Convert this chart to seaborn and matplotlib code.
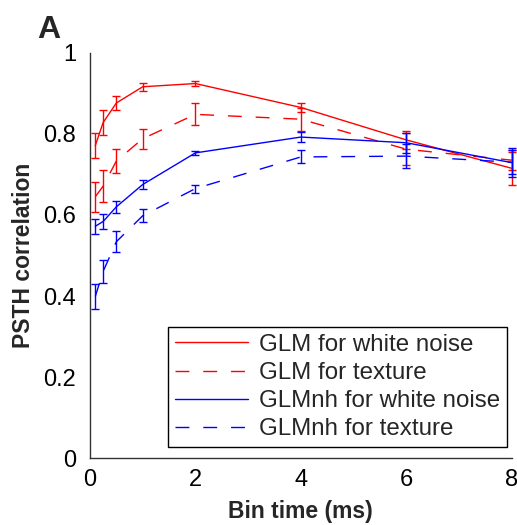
import matplotlib
matplotlib.use("Agg")
import matplotlib.pyplot as plt
import seaborn as sns
import pandas as pd
import numpy as np

# ---- data ----
bin_time = [0.1, 0.25, 0.5, 1, 2, 4, 6, 8]
series_names = ["GLM for white noise", "GLM for texture",
                "GLMnh for white noise", "GLMnh for texture"]
glm_wn = [0.771, 0.828, 0.876, 0.916, 0.924, 0.865, 0.785, 0.715]
glm_wn_err = [0.030, 0.030, 0.018, 0.010, 0.005, 0.010, 0.022, 0.040]
glm_tx = [0.645, 0.671, 0.733, 0.788, 0.848, 0.836, 0.762, 0.735]
glm_tx_err = [0.037, 0.039, 0.030, 0.025, 0.027, 0.028, 0.040, 0.025]
glmnh_wn = [0.572, 0.584, 0.620, 0.675, 0.753, 0.792, 0.778, 0.729]
glmnh_wn_err = [0.019, 0.018, 0.014, 0.012, 0.005, 0.013, 0.025, 0.035]
glmnh_tx = [0.399, 0.461, 0.534, 0.598, 0.665, 0.743, 0.745, 0.730]
glmnh_tx_err = [0.030, 0.028, 0.026, 0.016, 0.010, 0.016, 0.030, 0.030]
x_ticks = [0, 2, 4, 6, 8]
y_ticks = [0, 0.2, 0.4, 0.6, 0.8, 1]
y_tick_labels = ["0", "0.2", "0.4", "0.6", "0.8", "1"]

values = [glm_wn, glm_tx, glmnh_wn, glmnh_tx]
errors = [glm_wn_err, glm_tx_err, glmnh_wn_err, glmnh_tx_err]

df = pd.concat([
    pd.DataFrame({"Bin time": bin_time, "corr": v, "err": e, "series": n})
    for n, v, e in zip(series_names, values, errors)
], ignore_index=True)

colors = {series_names[0]: "#ff0000", series_names[1]: "#ff0000",
          series_names[2]: "#0000ff", series_names[3]: "#0000ff"}
dash = (10, 10)
dashes = {series_names[0]: "", series_names[1]: dash,
          series_names[2]: "", series_names[3]: dash}

sns.set_style("white")
plt.rcParams["font.family"] = ["Liberation Sans", "DejaVu Sans"]

fig = plt.figure(figsize=(5.17, 5.25), dpi=100)
ax = fig.add_axes([90 / 517, 1 - 458.3 / 525, (511.7 - 90) / 517, (458.3 - 52.7) / 525])

sns.lineplot(data=df, x="Bin time", y="corr", hue="series", style="series",
             palette=colors, dashes=dashes, hue_order=series_names,
             style_order=series_names, linewidth=1.0, ax=ax, legend=True)

for name in series_names:
    sub = df[df["series"] == name]
    ax.errorbar(sub["Bin time"], sub["corr"], yerr=sub["err"], fmt="none",
                ecolor=colors[name], elinewidth=1.0, capsize=3.2,
                capthick=1.0, clip_on=False, zorder=3)

ax.set_xlim(0, 8)
ax.set_ylim(0, 1)
ax.set_xticks(x_ticks)
ax.set_xticklabels([str(t) for t in x_ticks])
ax.set_yticks(y_ticks)
ax.set_yticklabels(y_tick_labels)
ax.tick_params(axis="both", which="major", direction="out", length=4,
               width=1, labelsize=17, colors="black")
ax.tick_params(axis="y", pad=6)
ax.tick_params(axis="x", pad=4)
for s in ["top", "right"]:
    ax.spines[s].set_visible(False)
for s in ["left", "bottom"]:
    ax.spines[s].set_color("#333333")
    ax.spines[s].set_linewidth(1.0)

ax.set_xlabel("Bin time (ms)", fontsize=16.5, fontweight="bold", labelpad=6)
ax.set_ylabel("PSTH correlation", fontsize=16.5, fontweight="bold", labelpad=6)

handles, labels = ax.get_legend_handles_labels()
leg = ax.legend(handles, labels, loc="lower right",
                bbox_to_anchor=(1 - 4.7 / 421.7, 11 / 405.6),
                fontsize=17.4, frameon=True, fancybox=False,
                edgecolor="black", framealpha=1, borderaxespad=0,
                handlelength=3.0, handletextpad=0.45, labelspacing=0.25,
                borderpad=0.3)
leg.get_frame().set_linewidth(1.0)

fig.text(37 / 517, 1 - 38 / 525, "A", fontsize=23, fontweight="bold",
         ha="left", va="baseline")

fig.savefig("out.png", dpi=100)
